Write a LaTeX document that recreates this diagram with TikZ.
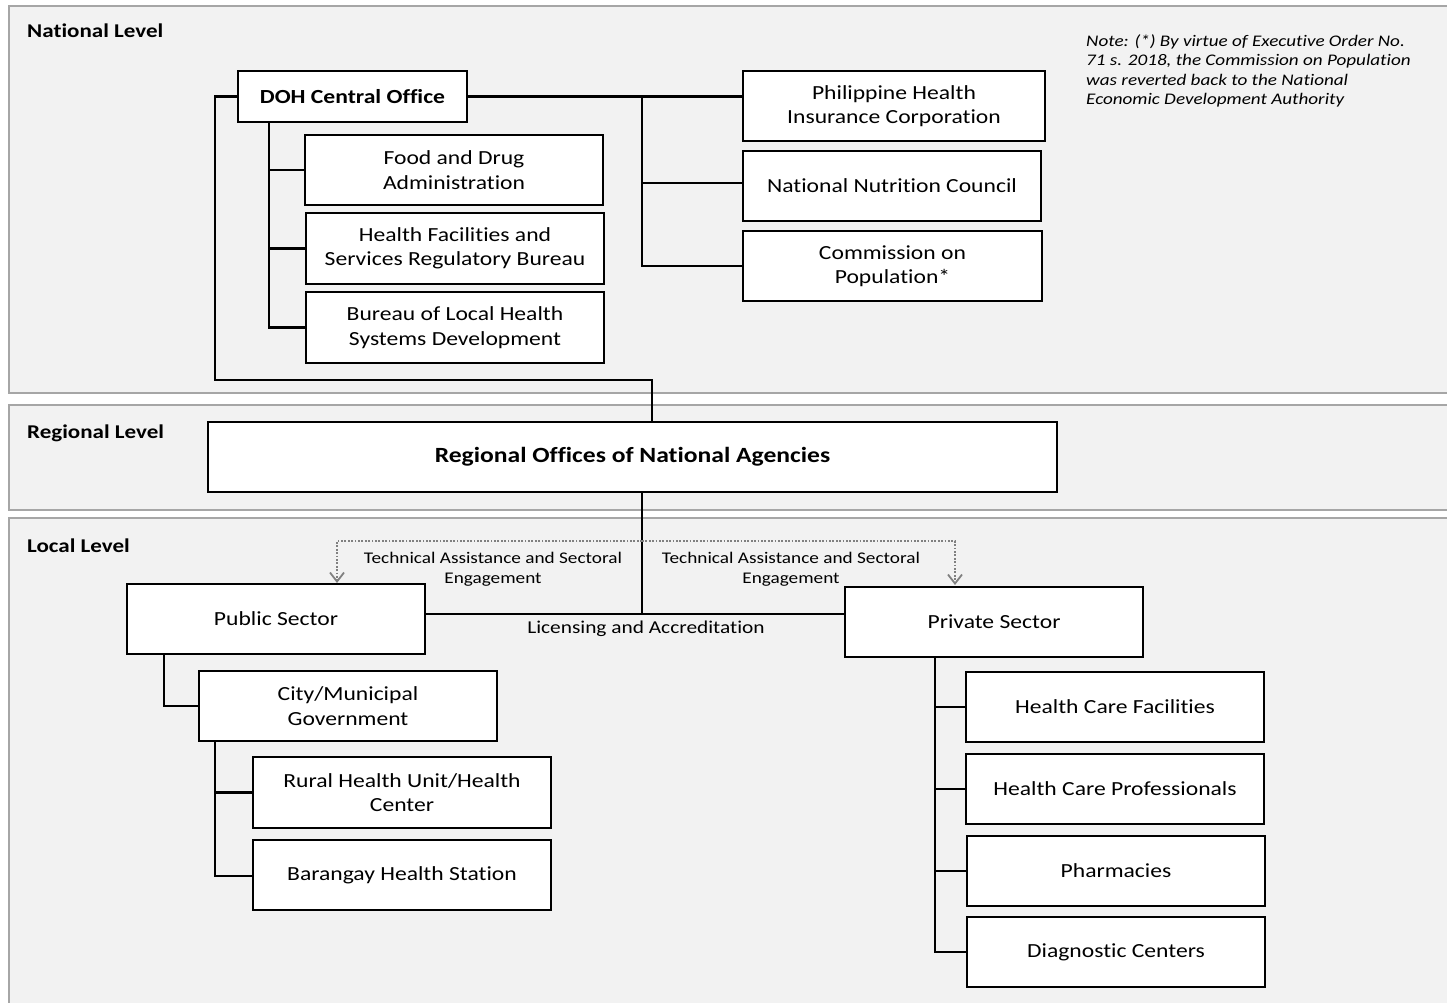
\documentclass[tikz,border=0pt]{standalone}
\usepackage{fontspec}
\setmainfont[FakeStretch=1.18,Ligatures=NoCommon]{Carlito}
\usetikzlibrary{arrows.meta}
\definecolor{panelfill}{HTML}{F2F2F2}
\definecolor{panelline}{HTML}{A6A6A6}
\definecolor{dotgray}{HTML}{808080}
\begin{document}
\begin{tikzpicture}[x=1pt,y=-1pt,
  panel/.style={fill=panelfill,draw=panelline,line width=1.5pt},
  box/.style={draw=black,fill=white,line width=2.4pt,inner sep=0pt,align=center,
    font=\fontsize{20}{24.5}\selectfont},
  conn/.style={draw=black,line width=2.4pt},
  dotarr/.style={draw=dotgray,line width=2.8pt,dash pattern=on 1.8pt off 1.6pt,
    -{Straight Barb[length=9pt,width=14pt,line width=1.8pt]}},
  level/.style={font=\fontsize{19.5}{22}\selectfont\bfseries,anchor=west,inner sep=0pt},
  lbl/.style={font=\fontsize{16.3}{20}\selectfont,align=center,inner sep=0pt}]
\useasboundingbox (0,0) rectangle (1447,1003);
\fill[white] (0,0) rectangle (1447,1003);
% panels
\draw[panel] (9,6) rectangle (1470,393);
\draw[panel] (9,405) rectangle (1470,510);
\draw[panel] (9,518) rectangle (1470,1020);
\node[level] (natl) at (27,31) {National Level};
\node[level] (regl) at (27,433) {Regional Level};
\node[level] (locl) at (27,546) {Local Level};
\node[font=\fontsize{16.2}{19.6}\selectfont\itshape,align=left,anchor=north west,inner sep=0pt]
  (note) at (1086,34) {Note: (*) By virtue of Executive Order No.\\71 s. 2018, the Commission on Population\\was reverted back to the National\\Economic Development Authority};
% national boxes
\node[box,minimum width=229pt,minimum height=51pt,font=\fontsize{20}{24.5}\selectfont\bfseries] (doh) at (352.5,96.5) {DOH Central Office};
\node[box,minimum width=298pt,minimum height=70pt] (fda) at (454,170) {Food and Drug\\Administration};
\node[box,minimum width=298pt,minimum height=71pt] (hfsrb) at (455,248.5) {Health Facilities and\\Services Regulatory Bureau};
\node[box,minimum width=298pt,minimum height=71pt] (blhsd) at (455,327.5) {Bureau of Local Health\\Systems Development};
\node[box,minimum width=302pt,minimum height=70pt] (phic) at (894,106) {Philippine Health\\Insurance Corporation};
\node[box,minimum width=298pt,minimum height=70pt] (nnc) at (892,186) {National Nutrition Council};
\node[box,minimum width=299pt,minimum height=70pt] (popcom) at (892.5,266) {Commission on\\Population*};
% regional
\node[box,minimum width=849pt,minimum height=70pt,font=\fontsize{21.7}{24.5}\selectfont\bfseries] (reg) at (632.5,457) {Regional Offices of National Agencies};
% local
\node[box,minimum width=298pt,minimum height=70pt] (pub) at (276,619) {Public Sector};
\node[box,minimum width=298pt,minimum height=70pt] (priv) at (994,622) {Private Sector};
\node[box,minimum width=298pt,minimum height=70pt] (city) at (348,706) {City/Municipal\\Government};
\node[box,minimum width=298pt,minimum height=71pt] (rhu) at (402,792.5) {Rural Health Unit/Health\\Center};
\node[box,minimum width=298pt,minimum height=70pt] (bhs) at (402,875) {Barangay Health Station};
\node[box,minimum width=298pt,minimum height=70pt] (hcf) at (1115,707) {Health Care Facilities};
\node[box,minimum width=298pt,minimum height=70pt] (hcp) at (1115,789) {Health Care Professionals};
\node[box,minimum width=298pt,minimum height=70pt] (pharm) at (1116,871) {Pharmacies};
\node[box,minimum width=298pt,minimum height=70pt] (diag) at (1116,952) {Diagnostic Centers};
% coordinates
\coordinate (dohl) at (215,96.5);
\coordinate (natbot) at (652,380);
\coordinate (dohd) at (269,122);
\coordinate (dohr) at (642,96.5);
\coordinate (regd) at (642,492);
\coordinate (ta) at (642,541);
\coordinate (tal) at (337,583);
\coordinate (tar) at (955,585);
\coordinate (pubd) at (164,654);
\coordinate (cityd) at (215,741);
\coordinate (privd) at (935,657);
% connectors (national)
\draw[conn] (doh.west) -- (dohl) |- (natbot) -- (natbot |- reg.north);
\draw[conn] (dohd) |- (blhsd.west);
\draw[conn] (dohd |- fda.west) -- (fda.west);
\draw[conn] (dohd |- hfsrb.west) -- (hfsrb.west);
\draw[conn] (doh.east) -- (doh.east -| phic.west);
\draw[conn] (dohr) |- (popcom.west);
\draw[conn] ([yshift=3pt]dohr |- nnc.west) -- ([yshift=3pt]nnc.west);
% regional to local
\draw[conn] (regd) -- (regd |- 0,614);
\draw[conn] ([yshift=5pt]pub.east) -- ([yshift=5pt]pub.east -| priv.west);
\draw[dotarr] (ta) -| (tal);
\draw[dotarr] (ta) -| (tar);
\node[lbl] (ta1) at (493,569) {Technical Assistance and Sectoral\\Engagement};
\node[lbl] (ta2) at (791,569) {Technical Assistance and Sectoral\\Engagement};
\begin{scope}
\clip (430,615) rectangle (840,637);
\node[lbl,font=\fontsize{18.1}{20}\selectfont] (lic) at (646,629) {Licensing and Accreditation};
\end{scope}
% local connectors
\draw[conn] (pubd) |- (city.west);
\draw[conn] (cityd) |- ([yshift=-1pt]bhs.west);
\draw[conn] (cityd |- rhu.west) -- (rhu.west);
\draw[conn] (privd) |- (diag.west);
\draw[conn] (privd |- hcf.west) -- (hcf.west);
\draw[conn] (privd |- hcp.west) -- (hcp.west);
\draw[conn] (privd |- pharm.west) -- (pharm.west);
\end{tikzpicture}
\end{document}
